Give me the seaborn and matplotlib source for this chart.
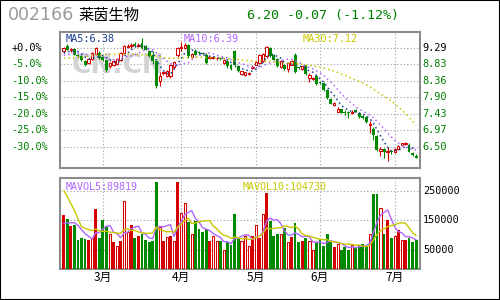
import numpy as np
import pandas as pd
import matplotlib
matplotlib.use("Agg")
import matplotlib.pyplot as plt
import seaborn as sns
from matplotlib.patches import Rectangle
from matplotlib import transforms

sns.set_theme(style="white")
plt.rcParams['font.family'] = ['DejaVu Sans', 'Noto Sans CJK SC']

# ---------------- data ----------------
stock_code = "002166"
stock_name = "莱茵生物"
quote_text = "6.20 -0.07 (-1.12%)"

open_ = [9.20, 9.35, 9.22, 9.26, 9.10, 9.06, 8.92, 8.88, 8.98, 9.12,
         9.15, 9.04, 8.94, 8.77, 8.80, 8.85, 8.94, 9.15, 9.32, 9.34,
         9.40, 9.35, 9.42, 9.35, 9.20, 9.10, 8.92, 8.35, 8.58, 8.51,
         8.49, 8.75, 9.10, 9.28, 9.29, 9.38, 9.04, 9.20, 9.16, 9.15,
         9.10, 9.02, 9.02, 9.00, 9.00, 8.87, 8.92, 8.80, 9.20, 8.77,
         8.57, 8.54, 8.56, 8.72, 8.82, 8.87, 8.92, 9.06, 9.29, 9.10,
         8.98, 8.75, 8.80, 8.70, 8.82, 9.10, 8.74, 8.70, 8.80, 8.44,
         8.42, 8.49, 8.32, 8.30, 8.11, 7.85, 7.68, 7.50, 7.56, 7.49,
         7.49, 7.47, 7.54, 7.45, 7.37, 7.34, 7.13, 7.00, 6.82, 6.40,
         6.45, 6.36, 6.38, 6.36, 6.45, 6.56, 6.58, 6.57, 6.33, 6.26]
close = [9.29, 9.24, 9.25, 9.10, 9.06, 8.94, 8.82, 8.98, 9.15, 9.29,
         9.01, 8.94, 8.68, 8.87, 8.93, 8.98, 9.15, 9.34, 9.35, 9.38,
         9.36, 9.38, 9.28, 9.24, 9.06, 8.92, 8.21, 8.51, 8.60, 8.63,
         8.82, 8.89, 9.29, 9.32, 9.38, 9.06, 9.13, 9.10, 9.15, 9.13,
         8.87, 9.04, 9.04, 9.01, 8.98, 8.96, 8.77, 8.70, 8.80, 8.63,
         8.63, 8.60, 8.58, 8.75, 8.89, 9.10, 9.13, 9.32, 9.06, 8.96,
         8.77, 8.92, 8.71, 8.87, 8.92, 8.60, 8.73, 8.77, 8.56, 8.52,
         8.45, 8.28, 8.30, 8.11, 7.88, 7.72, 7.75, 7.56, 7.47, 7.47,
         7.47, 7.50, 7.50, 7.35, 7.31, 7.21, 7.16, 6.85, 6.42, 6.44,
         6.35, 6.40, 6.36, 6.44, 6.52, 6.60, 6.62, 6.37, 6.27, 6.20]
high = [9.32, 9.40, 9.30, 9.28, 9.13, 9.08, 8.95, 9.00, 9.18, 9.32,
        9.20, 9.06, 8.96, 8.90, 8.95, 9.00, 9.17, 9.38, 9.40, 9.42,
        9.45, 9.42, 9.57, 9.38, 9.22, 9.20, 8.95, 8.60, 8.65, 8.66,
        8.84, 8.92, 9.32, 9.45, 9.42, 9.40, 9.16, 9.25, 9.20, 9.18,
        9.14, 9.06, 9.06, 9.04, 9.02, 8.98, 8.95, 8.83, 9.22, 8.80,
        8.64, 8.62, 8.60, 8.80, 8.92, 9.12, 9.16, 9.35, 9.31, 9.12,
        9.00, 8.95, 8.84, 8.90, 8.94, 9.16, 8.76, 8.79, 8.82, 8.58,
        8.48, 8.52, 8.34, 8.32, 8.14, 7.88, 7.78, 7.64, 7.58, 7.55,
        7.52, 7.54, 7.56, 7.47, 7.40, 7.36, 7.22, 7.07, 6.84, 6.50,
        6.48, 6.50, 6.42, 6.48, 6.56, 6.62, 6.64, 6.60, 6.36, 6.30]
low = [9.15, 9.22, 9.18, 9.08, 9.03, 8.92, 8.78, 8.85, 8.95, 9.08,
       8.99, 8.92, 8.61, 8.72, 8.78, 8.82, 8.92, 9.12, 9.28, 9.30,
       9.32, 9.33, 9.25, 9.22, 9.03, 8.85, 8.16, 8.22, 8.52, 8.48,
       8.45, 8.70, 9.05, 9.20, 9.25, 9.02, 9.00, 9.08, 9.10, 9.08,
       8.85, 8.98, 8.98, 8.96, 8.94, 8.85, 8.74, 8.66, 8.75, 8.60,
       8.53, 8.50, 8.52, 8.70, 8.80, 8.85, 8.90, 9.02, 9.04, 8.94,
       8.75, 8.72, 8.68, 8.62, 8.80, 8.58, 8.70, 8.68, 8.54, 8.32,
       8.38, 8.26, 8.27, 8.09, 7.86, 7.70, 7.65, 7.48, 7.45, 7.40,
       7.33, 7.44, 7.48, 7.33, 7.29, 7.19, 6.90, 6.70, 6.38, 6.25,
       6.20, 6.10, 6.30, 6.33, 6.42, 6.54, 6.55, 6.35, 6.26, 6.18]
# closes of the days before the window (read from MA5/MA10 starting levels)
prior_close = [9.00, 9.02, 9.00, 9.03, 9.00, 9.10, 9.12, 9.10, 9.14]
ma30 = [9.00, 9.00, 9.01, 9.01, 9.02,
        9.03, 9.05, 9.06, 9.08, 9.09, 9.10,
        9.10, 9.11, 9.11, 9.11, 9.12, 9.12, 9.12, 9.12, 9.11, 9.11, 9.10, 9.10, 9.10, 9.09, 9.08, 9.06,
        9.04, 9.02, 9.01, 9.00, 9.00, 9.00, 9.01, 9.02,
        9.02, 9.03, 9.03, 9.03, 9.03, 9.02, 9.02, 9.02, 9.01, 9.01, 9.00, 8.99, 8.98,
        8.97, 8.96, 8.95, 8.94, 8.93,
        8.93, 8.92, 8.92, 8.92, 8.92,
        8.91, 8.90, 8.89, 8.88, 8.87, 8.86, 8.86,
        8.85, 8.84, 8.83, 8.81, 8.80, 8.78, 8.77, 8.75,
        8.72, 8.70, 8.67, 8.64,
        8.60, 8.56, 8.52, 8.48,
        8.43, 8.39, 8.35, 8.30, 8.25,
        8.19, 8.13, 8.06, 8.00, 7.93, 7.87,
        7.80, 7.72, 7.63, 7.54, 7.45,
        7.34, 7.23, 7.12]

volume = [167, 154, 130, 133, 84, 90, 87, 84, 91, 188,
          91, 150, 130, 104, 75, 64, 81, 216, 112, 136,
          91, 98, 102, 84, 76, 78, 282, 127, 78, 95,
          98, 78, 282, 176, 211, 144, 104, 147, 119, 112,
          121, 78, 98, 81, 81, 50, 75, 67, 171, 87,
          81, 98, 61, 98, 133, 91, 173, 244, 148, 98,
          102, 104, 123, 75, 95, 141, 77, 81, 91, 81,
          50, 75, 87, 61, 102, 77, 60, 69, 50, 58,
          50, 67, 58, 67, 69, 61, 104, 242, 240, 194,
          104, 150, 91, 98, 116, 84, 84, 91, 75, 84]   # thousands
# volumes of the days before the window (read from MAVOL5/MAVOL10 starting levels)
prior_volume = [370, 370, 360, 370, 365, 140, 130, 130, 128]
# volume bar style: h = red hollow, f = red filled, g = green
vol_kind = list("fgfggggfhf" "ggghfhfhhf" "gfggggghfh"
                "fhfhhghggg" "gfhhghgggg" "hhhfhfhfgg"
                "ghghfggfgh" "hgggggfhgg" "ghgggghggh" "gfghfhfggg")

base_price = 9.29
pct_steps = [0, 5, 10, 15, 20, 25, 30]
price_labels = ["9.29", "8.83", "8.36", "7.90", "7.43", "6.97", "6.50"]
pct_labels = ["+0.0%", "-5.0%", "-10.0%", "-15.0%", "-20.0%", "-25.0%", "-30.0%"]
vol_ticks = [250000, 150000, 50000]
vol_tick_labels = ["250000", "150000", "50000"]
month_labels = ["3月", "4月", "5月", "6月", "7月"]
month_pos = [11, 33, 54, 72, 93]
ma_texts = ["MA5:6.38", "MA10:6.39", "MA30:7.12"]
vol_ma_texts = ["MAVOL5:89819", "MAVOL10:104730"]

# ---------------- derived ----------------
n = len(close)
x = np.arange(n)
o = np.array(open_); c = np.array(close); h = np.array(high); l = np.array(low)
allc = pd.Series(prior_close + close)
ma5 = allc.rolling(5).mean().to_numpy()[len(prior_close):]
ma10 = allc.rolling(10).mean().to_numpy()[len(prior_close):]
vol = np.array(volume) * 1000.0
allv = pd.Series((np.array(prior_volume + volume)) * 1000.0)
mavol5 = allv.rolling(5).mean().to_numpy()[len(prior_volume):]
mavol10 = allv.rolling(10).mean().to_numpy()[len(prior_volume):]
levels = [base_price * (1 - s / 100.0) for s in pct_steps]

RED = "#d40000"
GREEN = "#008a00"
LBL_GREEN = "#008000"
BLUE = "#1a3f90"
PURPLE = "#b266ff"
YELLOW = "#c8c800"
GRID = "#a0a0a0"
SPINE = "#8c8c8c"
MONO = "DejaVu Sans Mono"

W, H = 500, 300
fig = plt.figure(figsize=(5, 3), dpi=100)
fig.patch.set_facecolor("white")
ax = fig.add_axes([60 / W, 1 - 168 / H, 360 / W, 136 / H])
axv = fig.add_axes([60 / W, 1 - 269 / H, 360 / W, 91 / H])

xlim = (-1.04, 100.1)
for a in (ax, axv):
    a.set_facecolor("white")
    a.set_xlim(*xlim)
    a.set_xticks([]); a.set_yticks([])
    for s in a.spines.values():
        s.set_color(SPINE); s.set_linewidth(1.5)
    for mp in month_pos:
        a.axvline(mp, color=GRID, linestyle=(0, (1, 2)), linewidth=0.8, zorder=0.5)

ax.set_ylim(5.908, 9.741)
vbase = -16000
axv.set_ylim(vbase, 295000)

for lv in levels:
    ax.axhline(lv, color=GRID, linestyle=(0, (1, 2)), linewidth=0.8, zorder=0.5)
for vt in vol_ticks:
    axv.axhline(vt, color=GRID, linestyle=(0, (1, 2)), linewidth=0.8, zorder=0.5)

# watermark
ax.text(15.4, 8.77, "CN.CN", fontsize=19, fontweight="bold", color="#d3d3d3",
        ha="center", va="center", zorder=0.8)

# candles
up = c >= o
ccol = np.where(up, RED, GREEN)
ax.vlines(x, l, h, colors=ccol, linewidth=0.8, zorder=3)
body_bottom = np.minimum(o, c)
body_h = np.maximum(np.abs(c - o), 0.015)
ax.bar(x[~up], body_h[~up], bottom=body_bottom[~up], width=0.82, color=GREEN,
       linewidth=0, zorder=4)
ax.bar(x[up], body_h[up], bottom=body_bottom[up], width=0.68, color="white",
       edgecolor=RED, linewidth=0.75, zorder=4)

# moving averages
sns.lineplot(x=x, y=ma5, ax=ax, color=BLUE, linestyle=(0, (1, 2)), linewidth=1.1, zorder=5)
sns.lineplot(x=x, y=ma10, ax=ax, color=PURPLE, linestyle=(0, (1, 2)), linewidth=1.1, zorder=5)
sns.lineplot(x=x, y=ma30, ax=ax, color=YELLOW, linestyle=(0, (1, 2)), linewidth=1.1, zorder=5)

# volume bars
kind = np.array(vol_kind)
hol = kind == "h"
filled = ~hol
vface = np.where(kind == "f", RED, GREEN)
axv.bar(x[filled], (vol - vbase)[filled], bottom=vbase, width=0.8, color=vface[filled],
        linewidth=0, zorder=3)
axv.bar(x[hol], (vol - vbase)[hol], bottom=vbase, width=0.68, color="white",
        edgecolor=RED, linewidth=0.75, zorder=3)
sns.lineplot(x=x, y=mavol5, ax=axv, color=PURPLE, linewidth=1.0, zorder=5)
sns.lineplot(x=x, y=mavol10, ax=axv, color=YELLOW, linewidth=1.0, zorder=5)
for a in (ax, axv):
    a.set_xlabel(""); a.set_ylabel("")

# MA labels
ma_cols = [BLUE, PURPLE, YELLOW]
ma_x = [66, 184, 303]
for t, col, px in zip(ma_texts, ma_cols, ma_x):
    ax.text((px - 60) / 360, 1 - 6.5 / 136, t, transform=ax.transAxes, color=col,
            fontsize=7.4, family=MONO, ha="left", va="center", zorder=6)
vma_x = [66, 243]
for t, col, px in zip(vol_ma_texts, [PURPLE, YELLOW], vma_x):
    axv.text((px - 60) / 360, 1 - 9 / 91, t, transform=axv.transAxes, color=col,
             fontsize=7.2, family=MONO, ha="left", va="center", zorder=6)

# axis labels (left pct, right price)
tr_p = transforms.blended_transform_factory(fig.transFigure, ax.transData)
for i, (lv, pl, prl) in enumerate(zip(levels, pct_labels, price_labels)):
    col = "black" if i == 0 else LBL_GREEN
    right = 48 - (6 - len(pl)) * 6
    ax.text(right / W, lv, pl, transform=tr_p, color=col, fontsize=7.4, family=MONO,
            ha="right", va="center", clip_on=False)
    ax.text(422 / W, lv, prl, transform=tr_p, color=col, fontsize=7.4, family=MONO,
            ha="left", va="center", clip_on=False)
tr_v = transforms.blended_transform_factory(fig.transFigure, axv.transData)
for vt, vl in zip(vol_ticks, vol_tick_labels):
    axv.text(423 / W, vt, vl, transform=tr_v, color="black", fontsize=7.3, family=MONO,
             ha="left", va="center", clip_on=False)
tr_m = transforms.blended_transform_factory(axv.transData, fig.transFigure)
for mp, ml in zip(month_pos, month_labels):
    axv.text(mp, 1 - 277 / H, ml, transform=tr_m, color="black", fontsize=8.5,
             family=["Noto Sans CJK SC", "DejaVu Sans"], ha="center", va="center", clip_on=False)

# header
fig.text(8 / W, 1 - 15.5 / H, stock_code, color="#9a9a9a", fontsize=12.5, ha="left", va="center")
fig.text(78 / W, 1 - 15 / H, stock_name, color="black", fontsize=11,
         family=["Noto Sans CJK SC", "DejaVu Sans"], ha="left", va="center")
fig.text(247 / W, 1 - 15 / H, quote_text, color=LBL_GREEN, fontsize=9.6, family=MONO,
         ha="left", va="center")

fig.add_artist(Rectangle((0, 0), 1, 1, transform=fig.transFigure, fill=False,
                         edgecolor="black", linewidth=1.5))

fig.savefig("out.png", dpi=100)
